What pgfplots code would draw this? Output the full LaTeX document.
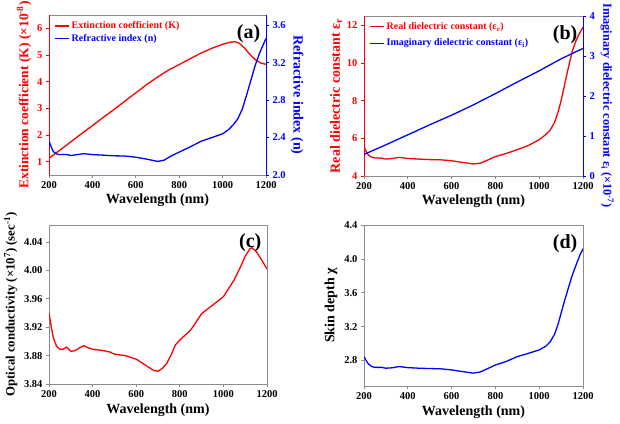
\documentclass[border=0pt]{standalone}
\usepackage{pgfplots}
\pgfplotsset{compat=1.18}
\usepackage{fontspec}
\setmainfont{Liberation Serif}
\definecolor{frame}{gray}{0.55}
\pgfplotsset{
  base/.style={
    anchor=south west, scale only axis,
    xmin=200, xmax=1200, xtick={200,400,...,1200},
    tick align=outside, major tick length=3pt,
    /pgf/number format/assume math mode=true,
    /pgf/number format/1000 sep={},
    ticklabel style={font=\bfseries\fontsize{10.5}{12}\selectfont},
    axis line style={frame, line width=0.7pt},
    tick style={frame, line width=0.7pt},
    xtick pos=bottom,
    xlabel={Wavelength (nm)},
    legend cell align=left,
    legend style={draw=none, fill=none, font=\bfseries\fontsize{10}{12}\selectfont},
    legend image code/.code={\draw[#1] (0pt,0pt) -- (14pt,0pt);},
  },
  panel/.style={every axis x label/.style={at={(axis description cs:0.5,#1)}, anchor=center, font=\bfseries\fontsize{14}{16}\selectfont}},
  yfmt/.style={yticklabel style={/pgf/number format/fixed, /pgf/number format/fixed zerofill, /pgf/number format/precision=#1}},
}
\begin{document}
\begin{tikzpicture}
\useasboundingbox (0,0) rectangle (620pt,423pt);
% ---------- (a)
\begin{axis}[base, panel=-0.156, at={(49pt,248pt)}, width=217pt, height=160pt,
  ymin=0.5, ymax=6.5, ytick={1,2,3,4,5,6}, ytick pos=left,
  y tick style={red}, yticklabel style={red},
  every axis y label/.style={at={(axis description cs:-0.115,0.5)}, rotate=90, anchor=center, red, font=\bfseries\fontsize{13.5}{16}\selectfont},
  ylabel={Extinction coefficient (K) (×10\textsuperscript{-8})}]
\addplot[red, line width=1.3pt] coordinates {
(200,1.13)(250,1.43)(300,1.74)(350,2.05)(400,2.35)(450,2.66)(500,2.96)(550,3.27)(600,3.58)(650,3.89)(700,4.17)(750,4.43)(800,4.64)(850,4.86)(900,5.07)(950,5.25)(1000,5.40)(1030,5.47)(1055,5.50)(1075,5.45)(1100,5.27)(1125,5.03)(1150,4.83)(1175,4.70)(1200,4.65)};
\draw[red, line width=0.8pt] (rel axis cs:0,0) -- (rel axis cs:0,1);
\node[anchor=north east, font=\bfseries\fontsize{20}{20}\selectfont] at (rel axis cs:0.99,0.965) {(a)};
\end{axis}
\begin{axis}[base, at={(49pt,248pt)}, width=217pt, height=160pt,
  axis x line=none, axis y line*=right, xlabel={},
  ymin=2.0, ymax=3.71, ytick={2.0,2.4,2.8,3.2,3.6}, yfmt=1,
  y axis line style={blue, line width=0.8pt},
  y tick style={blue}, yticklabel style={blue},
  every axis y label/.style={at={(axis description cs:1.143,0.5)}, rotate=-90, anchor=center, blue, font=\bfseries\fontsize{14}{16}\selectfont},
  ylabel={Refractive index (n)},
  legend style={at={(axis description cs:0.01,0.985)}, anchor=north west, row sep=0pt}]
\addlegendimage{red, line width=1.3pt}
\addlegendentry{\textcolor{red}{Extinction coefficient (K)}}
\addplot[blue, line width=1.3pt] coordinates {
(200,2.365)(210,2.30)(220,2.25)(235,2.225)(250,2.218)(280,2.22)(300,2.208)(330,2.218)(360,2.228)(400,2.218)(450,2.212)(500,2.205)(550,2.203)(600,2.19)(650,2.17)(700,2.145)(730,2.158)(760,2.20)(800,2.245)(850,2.30)(900,2.36)(950,2.40)(1000,2.44)(1030,2.49)(1050,2.54)(1070,2.60)(1090,2.70)(1110,2.85)(1130,3.01)(1150,3.17)(1170,3.30)(1185,3.38)(1200,3.46)};
\addlegendentry{\textcolor{blue}{Refractive index (n)}}
\end{axis}
% ---------- (b)
\begin{axis}[base, panel=-0.16, at={(364pt,247pt)}, width=219pt, height=160pt,
  ymin=4, ymax=12.5, ytick={4,6,8,10,12}, ytick pos=left,
  y tick style={red}, yticklabel style={red},
  every axis y label/.style={at={(axis description cs:-0.128,0.5)}, rotate=90, anchor=center, red, font=\bfseries\fontsize{14}{16}\selectfont},
  ylabel={Real dielectric constant ε\textsubscript{r}}]
\addplot[red, line width=1.3pt] coordinates {
(200,5.55)(210,5.3)(220,5.11)(235,5.0)(250,4.96)(280,4.95)(300,4.90)(330,4.93)(360,4.99)(400,4.93)(450,4.90)(500,4.87)(550,4.86)(600,4.81)(650,4.72)(700,4.64)(730,4.68)(760,4.82)(800,5.03)(850,5.20)(900,5.40)(950,5.62)(1000,5.93)(1030,6.2)(1050,6.44)(1070,6.85)(1085,7.35)(1100,8.0)(1115,8.8)(1130,9.6)(1150,10.6)(1170,11.25)(1185,11.6)(1200,11.9)};
\draw[red, line width=0.8pt] (rel axis cs:0,0) -- (rel axis cs:0,1);
\node[anchor=north east, font=\bfseries\fontsize{20}{20}\selectfont] at (rel axis cs:0.99,0.96) {(b)};
\end{axis}
\begin{axis}[base, at={(364pt,247pt)}, width=219pt, height=160pt,
  axis x line=none, axis y line*=right, xlabel={},
  ymin=0, ymax=4, ytick={0,1,2,3,4},
  y axis line style={blue, line width=0.8pt},
  y tick style={blue}, yticklabel style={blue},
  every axis y label/.style={at={(axis description cs:1.11,0.44)}, rotate=-90, anchor=center, blue, font=\bfseries\fontsize{12.3}{14}\selectfont},
  ylabel={Imaginary dielectric constant ε\textsubscript{i} (×10\textsuperscript{-7})},
  legend style={at={(axis description cs:0.01,0.985)}, anchor=north west, row sep=4pt}]
\addlegendimage{red, line width=1.3pt}
\addlegendentry{\textcolor{red}{Real dielectric constant (ε\textsubscript{r})}}
\addplot[blue, line width=1.3pt] coordinates {
(200,0.54)(300,0.78)(400,1.03)(500,1.28)(600,1.52)(700,1.78)(800,2.06)(900,2.35)(1000,2.63)(1100,2.93)(1150,3.06)(1200,3.19)};
\addlegendentry{\textcolor{blue}{Imaginary dielectric constant (ε\textsubscript{i})}}
\end{axis}
% ---------- (c)
\begin{axis}[base, panel=-0.164, at={(49pt,39pt)}, width=218pt, height=159pt,
  ymin=3.84, ymax=4.064, ytick={3.84,3.88,3.92,3.96,4.00,4.04}, ytick pos=left, yfmt=2,
  every axis y label/.style={at={(axis description cs:-0.175,0.5)}, rotate=90, anchor=center, font=\bfseries\fontsize{12.8}{14}\selectfont},
  ylabel={Optical conductivity (×10\textsuperscript{7}) (sec\textsuperscript{-1})}]
\addplot[red, line width=1.3pt] coordinates {
(200,3.940)(210,3.921)(220,3.905)(235,3.893)(250,3.889)(265,3.889)(280,3.892)(300,3.886)(320,3.887)(340,3.891)(360,3.894)(380,3.891)(400,3.889)(450,3.887)(480,3.885)(500,3.882)(550,3.880)(600,3.875)(650,3.865)(680,3.859)(700,3.858)(720,3.862)(740,3.869)(760,3.881)(780,3.895)(800,3.902)(850,3.916)(900,3.939)(950,3.951)(1000,3.963)(1050,3.987)(1080,4.006)(1100,4.020)(1120,4.030)(1130,4.032)(1150,4.027)(1175,4.015)(1200,4.002)};
\node[anchor=north east, font=\bfseries\fontsize{20}{20}\selectfont] at (rel axis cs:0.99,0.965) {(c)};
\end{axis}
% ---------- (d)
\begin{axis}[base, panel=-0.16, at={(364pt,37pt)}, width=219pt, height=161pt,
  ymin=2.5, ymax=4.4, ytick={2.8,3.2,3.6,4.0,4.4}, ytick pos=left, yfmt=1,
  every axis y label/.style={at={(axis description cs:-0.151,0.5)}, rotate=90, anchor=center, font=\bfseries\fontsize{14}{16}\selectfont},
  ylabel={Skin depth χ}]
\addplot[blue, line width=1.3pt] coordinates {
(200,2.847)(210,2.80)(220,2.76)(235,2.73)(250,2.72)(280,2.72)(300,2.71)(330,2.715)(360,2.73)(400,2.717)(450,2.71)(500,2.706)(550,2.703)(600,2.69)(650,2.67)(700,2.652)(730,2.665)(760,2.70)(800,2.748)(850,2.79)(900,2.847)(950,2.885)(1000,2.926)(1030,2.97)(1050,3.02)(1070,3.11)(1085,3.22)(1100,3.36)(1115,3.50)(1130,3.63)(1150,3.80)(1170,3.94)(1185,4.04)(1200,4.12)};
\node[anchor=north east, font=\bfseries\fontsize{20}{20}\selectfont] at (rel axis cs:0.99,0.96) {(d)};
\end{axis}
\end{tikzpicture}
\end{document}
